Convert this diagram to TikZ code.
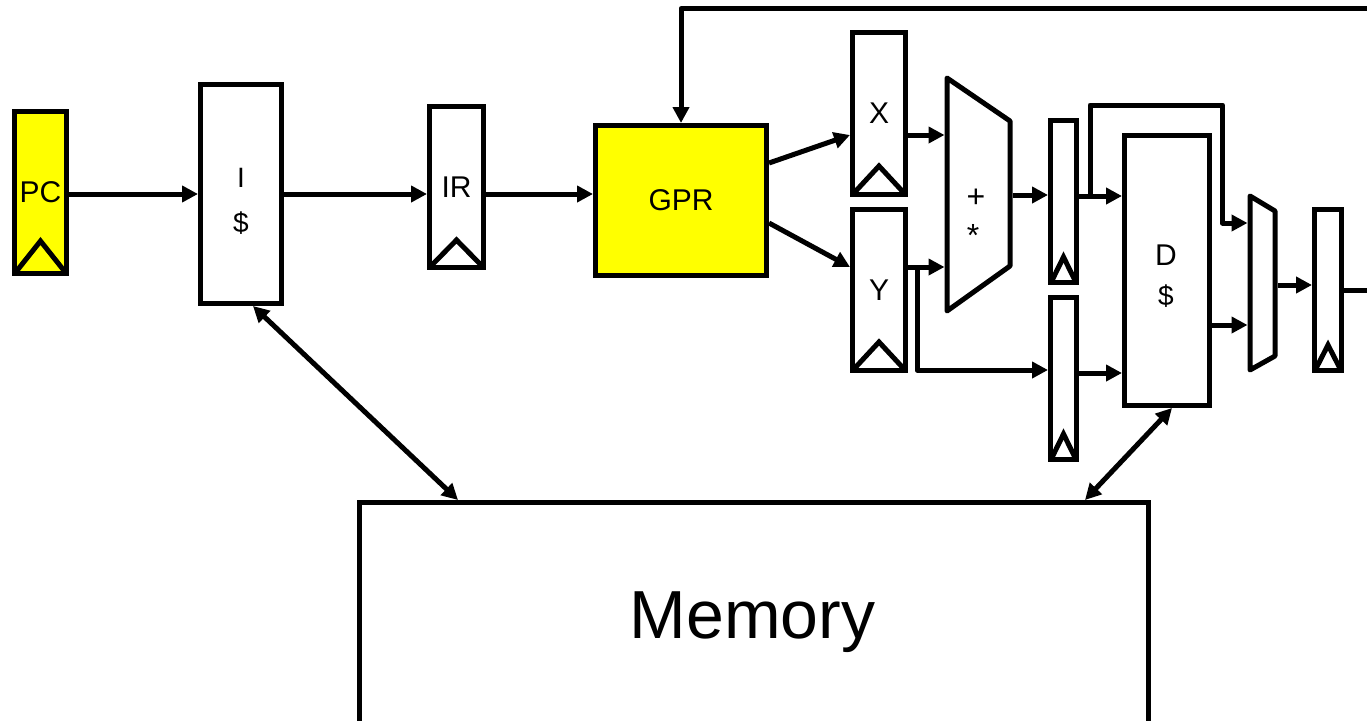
\documentclass[tikz,border=0pt]{standalone}
\usepackage{fontspec}
\setmainfont{Liberation Sans}
\usetikzlibrary{arrows.meta,calc}
\definecolor{pcyellow}{RGB}{255,255,0}
\tikzset{
 box/.style={draw, line width=5pt, fill=white, inner sep=0pt, font=\fontsize{30}{36}\selectfont},
 ybox/.style={box, fill=pcyellow},
 arr/.style={line width=5pt, line join=round, -{Triangle[length=16pt,width=16pt]}},
 darr/.style={line width=5pt, {Triangle[length=16pt,width=16pt]}-{Triangle[length=16pt,width=16pt]}},
 wire/.style={line width=5pt, line join=round},
 clk/.style={line width=5pt, line join=miter},
 lbl/.style={font=\fontsize{30}{36}\selectfont, inner sep=0pt, anchor=base},
}
\newcommand\clockmark[2]{\draw[clk] ($(#1.south west)+(3.5,-3.5)$) -- ($(#1.south)+(0,-#2)$) -- ($(#1.south east)+(-3.5,-3.5)$);}
\begin{document}
\begin{tikzpicture}[x=1pt,y=-1pt]
\useasboundingbox (0,0) rectangle (1367,720);
\clip (0,0) rectangle (1367,720);
\fill[white] (0,0) rectangle (1367,720);

% boxes
\node[ybox, minimum width=52pt, minimum height=162pt] (PC) at (40.5,192.5) {PC};
\node[box, minimum width=81pt, minimum height=219pt] (I) at (241,194) {};
\node[box, minimum width=54pt, minimum height=161pt] (IR) at (456.5,187) {IR};
\node[ybox, minimum width=171pt, minimum height=150pt] (GPR) at (681,200.5) {GPR};
\node[box, minimum width=53pt, minimum height=162pt] (X) at (879,113.5) {X};
\node[box, minimum width=53pt, minimum height=161pt] (Y) at (879,290) {Y};
\node[box, minimum width=26pt, minimum height=162pt] (R1) at (1063.5,201.5) {};
\node[box, minimum width=26pt, minimum height=162pt] (R2) at (1063.5,378.5) {};
\node[box, minimum width=85pt, minimum height=270pt] (D) at (1167,270.5) {};
\node[box, minimum width=27pt, minimum height=161pt] (R3) at (1328,290) {};
\node[box, minimum width=789pt, minimum height=255pt] (mem) at (754,630) {};

% texts
\node[lbl, font=\fontsize{28}{34}\selectfont] (tI) at (241,187) {I};
\node[lbl, font=\fontsize{28}{34}\selectfont] (tId) at (241,232) {\$};
\node[lbl] (tD) at (1166,265) {D};
\node[lbl, font=\fontsize{28}{34}\selectfont] (tDd) at (1166,305) {\$};
\node[lbl] (tMem) at (752.5,638) {\fontsize{68}{80}\selectfont Memory};

% clocks
\clockmark{PC}{35}
\clockmark{IR}{30}
\clockmark{X}{31}
\clockmark{Y}{31}
\clockmark{R1}{28}
\clockmark{R2}{28}
\clockmark{R3}{28}

% ALU and mux
\draw[wire, fill=white] (947,78) -- (1010,121) -- (1010,266) -- (947,311) -- cycle;
\node[lbl, font=\fontsize{32}{38}\selectfont] (tplus) at (976,207) {+};
\node[lbl, font=\fontsize{32}{38}\selectfont] (tstar) at (973,246) {*};
\draw[wire, fill=white] (1250,196) -- (1275,211) -- (1275,356) -- (1250,370) -- cycle;
\coordinate (aluIn1) at (944.5,135);
\coordinate (aluIn2) at (944.5,267);
\coordinate (aluOut) at (1012.5,195);
\coordinate (muxIn1) at (1247.5,223);
\coordinate (muxIn2) at (1247.5,325);
\coordinate (muxOut) at (1277.5,285);

% connectors
\draw[arr] (I.west -| PC.east) -- (I.west);
\draw[arr] (I.east) -- (I.east -| IR.west);
\draw[arr] (I.east -| IR.east) -- (I.east -| GPR.west);
\draw[arr] ($(GPR.east)+(0,-37.5)$) -- ($(X.west)+(0,21.5)$);
\draw[arr] ($(GPR.east)+(0,22.5)$) -- ($(Y.west)+(0,-23)$);
\draw[arr] (X.east |- aluIn1) -- (aluIn1);
\draw[arr] (Y.east |- aluIn2) -- (aluIn2);
\coordinate (yb) at (917,267);
\draw[arr] (yb) |- ($(R2.west)+(0,-8.5)$);
\draw[arr] (aluOut) -- (aluOut -| R1.west);
\coordinate (r1o) at ($(R1.east)+(0,-5.5)$);
\draw[arr] (r1o) -- (r1o -| D.west);
\coordinate (r1b) at ($(r1o)+(11,0)$);
\draw[arr] (r1b) |- ($(muxIn1)+(-25,-118)$) |- (muxIn1);
\coordinate (r2o) at ($(R2.east)+(0,-5.5)$);
\draw[arr] (r2o) -- (r2o -| D.west);
\draw[arr] (D.east |- muxIn2) -- (muxIn2);
\draw[arr] (muxOut) -- (muxOut -| R3.west);
\draw[arr] (R3.east) -| (1372,8.5) -| (GPR.north);
\draw[darr] ($(I.south)+(12,0)$) -- ($(mem.north west)+(101,0)$);
\draw[darr] ($(D.south)+(5,0)$) -- ($(mem.north east)+(-66,0)$);
\end{tikzpicture}
\end{document}
